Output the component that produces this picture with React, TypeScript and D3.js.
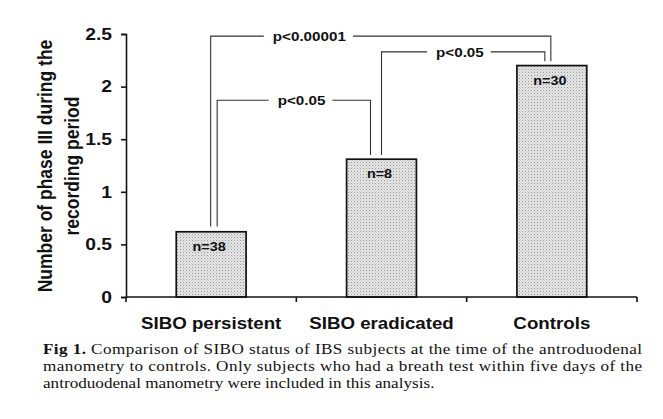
import React, { useEffect, useRef } from "react";
import * as d3 from "d3";

const categories = ["SIBO persistent", "SIBO eradicated", "Controls"];
const values = [0.62, 1.31, 2.2];
const nLabels = ["n=38", "n=8", "n=30"];
const yTicks = [0, 0.5, 1, 1.5, 2, 2.5];

// significance brackets: level and drop ends in data units
const brackets = [
  { from: 0, to: 2, level: 2.48, fromEnd: 0.67, toEnd: 2.24, label: "p<0.00001", dxFrom: -0.5, dxTo: -1, pos: 0.29 },
  { from: 0, to: 1, level: 1.87, fromEnd: 0.67, toEnd: 1.35, label: "p<0.05", dxFrom: 6, dxTo: -11, pos: 0.55 },
  { from: 1, to: 2, level: 2.33, fromEnd: 1.35, toEnd: 2.24, label: "p<0.05", dxFrom: 0, dxTo: -7, pos: 0.48 },
];

const captionLines = [
  { bold: "Fig 1.", text: " Comparison of SIBO status of IBS subjects at the time of the antroduodenal", justify: true },
  { bold: "", text: "manometry to controls. Only subjects who had a breath test within five days of the", justify: true },
  { bold: "", text: "antroduodenal manometry were included in this analysis.", justify: false },
];

const W = 663;
const H = 419;
const SX = 1.17; // the scan is a little wider than tall
const sans = "'Liberation Sans', Arial, sans-serif";
const serif = "'Liberation Serif', 'Times New Roman', serif";

export default function App() {
  const ref = useRef<SVGSVGElement>(null);

  useEffect(() => {
    const svg = d3.select(ref.current);
    svg.selectAll("*").remove();

    const x = d3.scaleBand().domain(categories).range([126, 637]).padding(0);
    const y = d3.scaleLinear().domain([0, 2.5]).range([297, 34]);
    const barW = x.bandwidth() * 0.41;
    const cx = (i: number) => (x(categories[i]) as number) + x.bandwidth() / 2;

    const label = (g: any, px: number, py: number, size: number, txt: string, sx = SX) =>
      g.append("text")
        .attr("transform", `translate(${px},${py}) scale(${sx},1)`)
        .attr("text-anchor", "middle")
        .attr("font-family", sans)
        .attr("font-weight", "bold")
        .attr("font-size", size)
        .attr("fill", "#111")
        .text(txt);

    const defs = svg.append("defs");
    const pat = defs.append("pattern")
      .attr("id", "stipple")
      .attr("width", 3)
      .attr("height", 3)
      .attr("patternUnits", "userSpaceOnUse");
    pat.append("rect").attr("width", 3).attr("height", 3).attr("fill", "#e4e4e4");
    pat.append("rect").attr("width", 1).attr("height", 1).attr("fill", "#9a9a9a");
    pat.append("rect").attr("x", 1.5).attr("y", 1.5).attr("width", 1).attr("height", 1).attr("fill", "#c0c0c0");

    // bars
    svg.append("g")
      .selectAll("rect")
      .data(values)
      .join("rect")
      .attr("x", (d, i) => cx(i) - barW / 2)
      .attr("y", d => y(d))
      .attr("width", barW)
      .attr("height", d => y(0) - y(d))
      .attr("fill", "url(#stipple)")
      .attr("stroke", "#111")
      .attr("stroke-width", 1.7);

    const nl = svg.append("g");
    values.forEach((v, i) => label(nl, cx(i) - 2, y(v) + 19, 12.5, nLabels[i], 1.15));

    // y axis
    const yAxis = svg.append("g")
      .attr("transform", `translate(${x.range()[0]},0)`)
      .call(d3.axisLeft(y).tickValues(yTicks).tickSize(5).tickPadding(9).tickFormat(d => String(d)));
    yAxis.select(".domain").attr("stroke", "#111").attr("stroke-width", 1.6);
    yAxis.selectAll(".tick line").attr("stroke", "#111").attr("stroke-width", 1.6);
    yAxis.selectAll(".tick text")
      .attr("x", -14 / SX)
      .attr("transform", `scale(${SX},1)`)
      .attr("font-family", sans)
      .attr("font-weight", "bold")
      .attr("font-size", 16.5)
      .attr("fill", "#111");

    // x axis with ticks at band edges
    const edges = [...categories.map(c => x(c) as number), x.range()[1]];
    const xg = svg.append("g");
    xg.append("line")
      .attr("x1", x.range()[0]).attr("x2", x.range()[1])
      .attr("y1", y(0)).attr("y2", y(0))
      .attr("stroke", "#111").attr("stroke-width", 1.6);
    xg.selectAll("line.tk")
      .data(edges)
      .join("line")
      .attr("class", "tk")
      .attr("x1", d => d).attr("x2", d => d)
      .attr("y1", y(0)).attr("y2", y(0) + 5)
      .attr("stroke", "#111").attr("stroke-width", 1.6);
    categories.forEach(c => label(xg, (x(c) as number) + x.bandwidth() / 2, 329, 16, c));

    // y title (rotated; the stretch falls across the glyphs)
    const title = svg.append("text")
      .attr("transform", `translate(52,166) scale(${SX},1) rotate(-90)`)
      .attr("text-anchor", "middle")
      .attr("font-family", sans)
      .attr("font-weight", "bold")
      .attr("font-size", 17.5)
      .attr("fill", "#111");
    title.append("tspan").attr("x", 0).attr("y", 0).text("Number of phase III during the");
    title.append("tspan").attr("x", 0).attr("y", 23).text("recording period");

    // brackets
    const bg = svg.append("g");
    brackets.forEach(b => {
      const x1 = cx(b.from) + b.dxFrom;
      const x2 = cx(b.to) + b.dxTo;
      const yl = y(b.level);
      const tx = x1 + (x2 - x1) * b.pos;
      const t = label(bg, tx, yl + 4.7, 13, b.label);
      const w = (t.node() as SVGTextElement).getComputedTextLength() * SX;
      const gapL = tx - w / 2 - 9;
      const gapR = tx + w / 2 + 7;
      const path = d3.path();
      path.moveTo(x1, y(b.fromEnd));
      path.lineTo(x1, yl);
      path.lineTo(gapL, yl);
      path.moveTo(gapR, yl);
      path.lineTo(x2, yl);
      path.lineTo(x2, y(b.toEnd));
      bg.append("path")
        .attr("d", path.toString())
        .attr("fill", "none")
        .attr("stroke", "#333")
        .attr("stroke-width", 1.1);
    });

    // caption
    const CX = 1.12;
    const cap = svg.append("g");
    captionLines.forEach((l, i) => {
      const t = cap.append("text")
        .attr("transform", `translate(43,${354 + i * 17}) scale(${CX},1)`)
        .attr("font-family", serif)
        .attr("font-size", 15.3)
        .attr("fill", "#111");
      if (l.justify) t.attr("textLength", 599 / CX).attr("lengthAdjust", "spacing");
      if (l.bold) t.append("tspan").attr("font-weight", "bold").text(l.bold);
      t.append("tspan").text(l.text);
    });
  }, []);

  return (
    <svg ref={ref} width={W} height={H} style={{ position: "absolute", left: 0, top: 0, background: "#fff" }} />
  );
}
